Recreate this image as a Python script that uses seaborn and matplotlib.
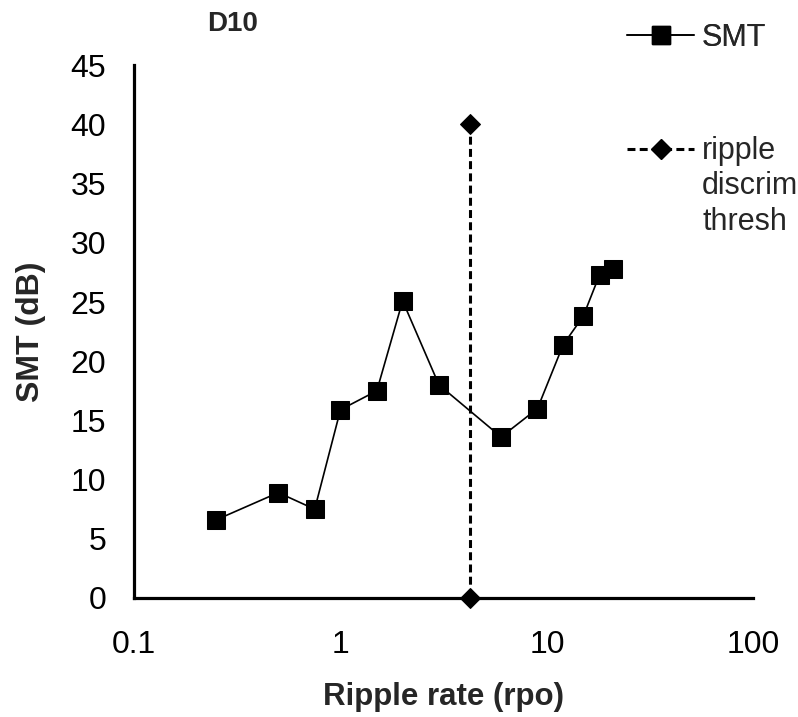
import matplotlib
matplotlib.use("Agg")
import matplotlib.pyplot as plt
import seaborn as sns
import pandas as pd
from matplotlib.lines import Line2D
from matplotlib.ticker import FixedLocator, FixedFormatter, NullLocator

# data
ripple_rate = [0.25, 0.5, 0.75, 1.0, 1.5, 2.0, 3.0, 6.0, 9.0, 12.0, 15.0, 18.0, 21.0]
smt_db = [6.6, 8.9, 7.5, 15.9, 17.5, 25.1, 18.0, 13.6, 16.0, 21.4, 23.8, 27.3, 27.8]
thresh_x = [4.25, 4.25]
thresh_y = [40, 0]
x_ticks = [0.1, 1, 10, 100]
x_tick_labels = ["0.1", "1", "10", "100"]
y_ticks = [0, 5, 10, 15, 20, 25, 30, 35, 40, 45]

sns.set_style("white")
plt.rcParams["font.family"] = ["Liberation Sans", "DejaVu Sans"]

fig = plt.figure(figsize=(7.98, 7.17), dpi=100)
ax = fig.add_axes([0.168, 0.166, 0.776, 0.743])

df = pd.DataFrame({"x": ripple_rate, "y": smt_db})
dft = pd.DataFrame({"x": thresh_x, "y": thresh_y})

sns.lineplot(data=df, x="x", y="y", ax=ax, color="black", lw=1.2, marker="s",
             markersize=12.5, markeredgecolor="black", markerfacecolor="black",
             sort=False, estimator=None, clip_on=False)
sns.lineplot(data=dft, x="x", y="y", ax=ax, color="black", lw=2.2, marker="D",
             markersize=10, markeredgecolor="black", markerfacecolor="black",
             sort=False, estimator=None, clip_on=False, linestyle=(0, (2.6, 1.4)))

ax.set_xscale("log")
ax.set_xlim(0.1, 100)
ax.set_ylim(0, 45)
ax.xaxis.set_major_locator(FixedLocator(x_ticks))
ax.xaxis.set_major_formatter(FixedFormatter(x_tick_labels))
ax.xaxis.set_minor_locator(NullLocator())
ax.set_yticks(y_ticks)

for s in ["top", "right"]:
    ax.spines[s].set_visible(False)
for s in ["left", "bottom"]:
    ax.spines[s].set_linewidth(2.3)
    ax.spines[s].set_color("black")

ax.tick_params(axis="both", direction="in", length=7, width=1.5, colors="black",
               labelsize=23)
ax.tick_params(axis="x", pad=23)
ax.tick_params(axis="y", pad=20)

ax.set_xlabel("Ripple rate (rpo)", fontsize=22.5, fontweight="bold", labelpad=16)
ax.set_ylabel("SMT (dB)", fontsize=23, fontweight="bold", labelpad=18)

fig.text(0.291, 0.966, "D10", fontsize=20, fontweight="bold", ha="center", va="center")

h1 = Line2D([], [], color="black", lw=1.2, marker="s", markersize=12.5)
h2 = Line2D([], [], color="black", lw=2.2, marker="D", markersize=10, linestyle=(0, (2.6, 1.4)))
hb = Line2D([], [], color="none", lw=0)

leg1 = fig.legend([h1], ["SMT"], loc="center left", bbox_to_anchor=(0.786, 0.947),
                  frameon=False, fontsize=22, handlelength=2.2, handletextpad=0.25,
                  borderaxespad=0, borderpad=0)
fig.add_artist(leg1)
leg2 = fig.legend([h2, hb, hb], ["ripple", "discrim", "thresh"], loc="upper left",
                  bbox_to_anchor=(0.786, 0.810), frameon=False, fontsize=22,
                  handlelength=2.2, handletextpad=0.25, labelspacing=0.17,
                  borderaxespad=0, borderpad=0)

fig.savefig("out.png", dpi=100)
